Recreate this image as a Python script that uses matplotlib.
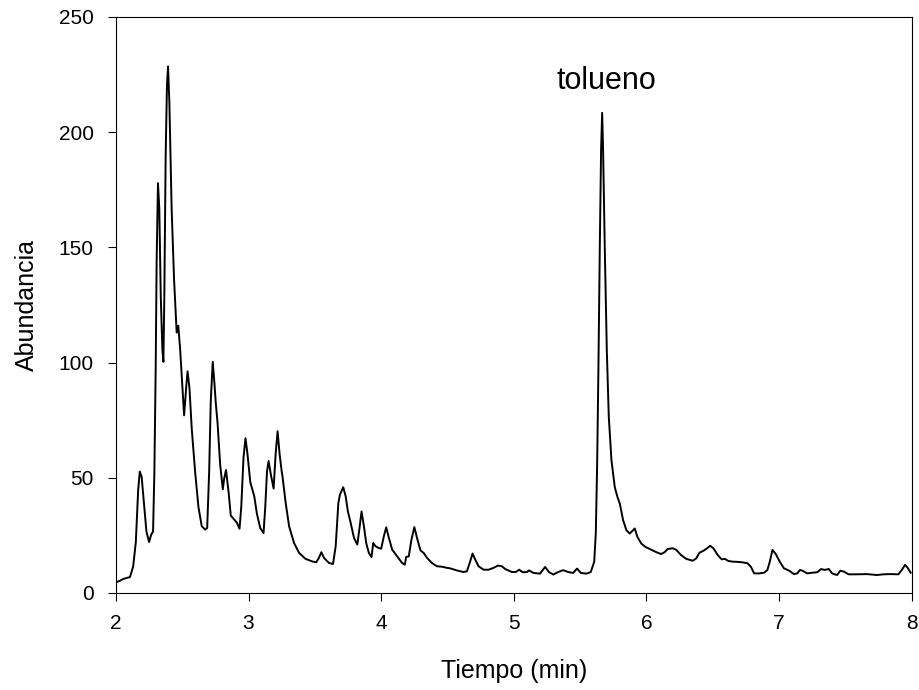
import matplotlib.pyplot as plt

plt.rcParams['font.family'] = ['Liberation Sans', 'DejaVu Sans']

# Tiempo (min)
tiempo = [
    2.0, 2.03, 2.055, 2.106, 2.13, 2.15, 2.168, 2.18, 2.194, 2.214, 2.23, 2.25,
    2.265, 2.28, 2.29, 2.30, 2.307, 2.317, 2.327, 2.338, 2.35, 2.358, 2.365,
    2.375, 2.385, 2.393, 2.403, 2.42, 2.438, 2.458, 2.47, 2.484, 2.50, 2.514,
    2.53, 2.54, 2.554, 2.572, 2.597, 2.622, 2.647, 2.673, 2.688, 2.703, 2.715,
    2.73, 2.743, 2.753, 2.766, 2.786, 2.806, 2.816, 2.83, 2.85, 2.866, 2.89,
    2.912, 2.932, 2.945, 2.962, 2.977, 2.992, 3.013, 3.043, 3.063, 3.088,
    3.113, 3.126, 3.139, 3.151, 3.169, 3.189, 3.204, 3.219, 3.234, 3.25,
    3.256, 3.28, 3.306, 3.343, 3.381, 3.43, 3.48, 3.51, 3.53, 3.549, 3.569,
    3.607, 3.637, 3.657, 3.677, 3.689, 3.714, 3.732, 3.749, 3.77, 3.795,
    3.82, 3.835, 3.852, 3.87, 3.887, 3.907, 3.927, 3.94, 3.957, 3.982, 4.0,
    4.02, 4.038, 4.058, 4.083, 4.12, 4.158, 4.178, 4.188, 4.208, 4.228, 4.25,
    4.27, 4.296, 4.32, 4.346, 4.383, 4.42, 4.459, 4.496, 4.52, 4.57, 4.62,
    4.646, 4.667, 4.689, 4.709, 4.734, 4.772, 4.81, 4.847, 4.88, 4.91, 4.935,
    4.985, 5.015, 5.04, 5.068, 5.098, 5.115, 5.148, 5.198, 5.236, 5.266,
    5.298, 5.334, 5.372, 5.41, 5.447, 5.477, 5.505, 5.548, 5.58, 5.606,
    5.618, 5.628, 5.638, 5.648, 5.658, 5.666, 5.673, 5.686, 5.701, 5.716,
    5.736, 5.761, 5.781, 5.799, 5.824, 5.849, 5.874, 5.895, 5.912, 5.932,
    5.962, 5.992, 6.04, 6.075, 6.11, 6.137, 6.16, 6.2, 6.225, 6.26, 6.3,
    6.35, 6.375, 6.4, 6.432, 6.457, 6.48, 6.505, 6.537, 6.567, 6.592, 6.617,
    6.65, 6.687, 6.725, 6.762, 6.787, 6.812, 6.85, 6.887, 6.912, 6.93, 6.95,
    6.975, 7.005, 7.037, 7.075, 7.112, 7.137, 7.157, 7.175, 7.212, 7.25,
    7.287, 7.317, 7.342, 7.375, 7.4, 7.437, 7.462, 7.487, 7.525, 7.587,
    7.662, 7.737, 7.787, 7.837, 7.9, 7.925, 7.95, 7.967, 7.992,
]

abundancia = [
    4.6, 5.3, 6.1, 6.9, 11.5, 22, 45, 52.7, 50.4, 37.4, 26.7, 22.1,
    25.2, 26.7, 52.7, 98.5, 144, 177.9, 167, 129, 106, 100.3, 129,
    190, 220.6, 228.5, 213, 167, 136.6, 113, 116, 106, 90.8, 77.1,
    89.3, 96.2, 89.3, 71, 52.7, 37.4, 29, 27.5, 28.2, 52.7, 83.2,
    100.3, 90.8, 82.4, 74, 55.7, 45, 49.6, 53.4, 43.5, 33.6, 32,
    30.5, 27.9, 37.4, 58.8, 67.2, 60.3, 48.1, 42, 34.4, 28.2,
    26, 37.4, 52.7, 57.3, 51.1, 45.3, 60.3, 70.2, 60.3, 52.7,
    50.6, 39, 28.9, 21.7, 17.4, 14.8, 13.7, 13.3, 15.2, 17.7, 15.2,
    13, 12.6, 20.3, 39, 42.7, 45.9, 42, 35.4, 30.4, 23.9,
    21, 27.5, 35.4, 28.9, 21.7, 17.4, 15.6, 21.7, 20.3, 19.5, 19.2,
    24.6, 28.5, 23.9, 18.8, 15.9, 13, 12.3, 15.6, 15.9, 23.1, 28.6,
    23.9, 18.5, 17.4, 15.2, 13, 11.6, 11.4, 10.9, 10.7, 9.8, 9.1,
    9.4, 13, 17.1, 14.5, 11.6, 10.1, 10.1, 10.9, 11.9, 11.6, 10.4,
    9.1, 9.1, 10.1, 9, 9.1, 9.8, 8.7, 8.4, 11.3, 9,
    8, 9.1, 9.9, 9.1, 8.7, 10.6, 8.7, 8.4, 9.1, 13.5,
    25.8, 54.8, 98.3, 149, 192.5, 208.4, 192.5, 149, 105.5, 76.5,
    57.7, 46, 41.7, 38.8, 31.6, 27.2, 25.8, 27, 28, 24.3,
    21.4, 20, 18.7, 17.7, 16.9, 17.7, 19.1, 19.4, 18.7, 16.5, 14.8,
    14, 15, 17.5, 18.4, 19.4, 20.5, 19.4, 16.5, 14.6, 14.8, 13.9,
    13.6, 13.5, 13.3, 12.9, 11.4, 8.5, 8.5, 8.8, 10, 13.6, 18.7,
    16.9, 13.6, 10.7, 9.7, 8.2, 8.5, 10, 9.7, 8.5, 8.8,
    9, 10.4, 10, 10.4, 8.5, 7.8, 9.7, 9.3, 8.1, 8.1,
    8.2, 7.8, 8.1, 8.2, 8.1, 10, 12.2, 11.1, 8.8,
]

fig = plt.figure(figsize=(9.2, 6.9), dpi=100)
ax = fig.add_axes([0.126, 0.1406, 0.865, 0.8348])

ax.plot(tiempo, abundancia, color='black', linewidth=1.4)

ax.set_xlim(2, 8)
ax.set_ylim(0, 250)
ax.set_xticks(range(2, 9))
ax.set_yticks(range(0, 251, 50))
ax.tick_params(direction='out', length=6, labelsize=15)
ax.tick_params(axis='x', pad=9)
ax.tick_params(axis='y', pad=10)

ax.set_xlabel('Tiempo (min)', fontsize=18, labelpad=19)
ax.set_ylabel('Abundancia', fontsize=18, labelpad=14)

ax.text(5.697, 222, 'tolueno', fontsize=22, ha='center', va='center')

fig.savefig('out.png', dpi=100)
